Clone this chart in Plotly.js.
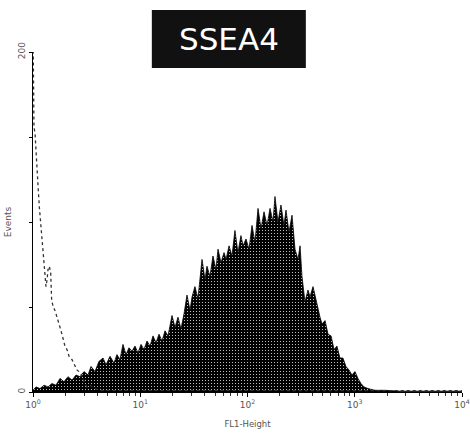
<!DOCTYPE html>
<html>
<head>
<meta charset="utf-8">
<script src="https://cdn.plot.ly/plotly-3.0.1.min.js"></script>
<style>html,body{margin:0;padding:0;background:#fff;}#chart{width:470px;height:434px;}</style>
</head>
<body>
<div id="chart"></div>
<script>
// SSEA4-stained sample: FL1-Height position (decades, log10) and event counts
const stainedDecade = [0.000,0.028,0.065,0.103,0.140,0.177,0.214,0.252,0.289,0.326,0.364,0.401,0.438,0.476,0.513,0.541,0.578,0.615,0.653,0.681,0.718,0.755,0.783,0.811,0.839,0.867,0.895,0.923,0.951,0.979,1.007,1.035,1.063,1.091,1.119,1.147,1.175,1.203,1.231,1.259,1.296,1.324,1.352,1.380,1.408,1.436,1.464,1.483,1.510,1.538,1.576,1.604,1.622,1.650,1.678,1.706,1.725,1.753,1.781,1.800,1.828,1.855,1.883,1.911,1.939,1.958,1.986,2.014,2.042,2.070,2.098,2.126,2.154,2.182,2.210,2.238,2.256,2.284,2.312,2.340,2.359,2.387,2.415,2.443,2.471,2.490,2.508,2.536,2.564,2.583,2.611,2.648,2.676,2.695,2.723,2.751,2.779,2.807,2.834,2.862,2.890,2.918,2.946,2.974,3.002,3.030,3.058,3.086,3.124,3.189,3.282,3.422,3.608,3.795,4.000];
const stainedCounts = [1,3,2,4,3,5,4,8,6,9,7,10,9,12,10,15,12,18,20,16,21,17,22,19,28,22,26,24,27,23,28,25,30,27,33,29,34,30,36,33,45,38,44,37,46,57,48,56,62,55,78,66,74,68,80,72,84,76,82,78,86,80,95,82,92,86,90,84,98,88,108,96,106,98,108,100,115,100,110,98,107,94,104,84,78,86,68,53,60,56,62,51,44,40,42,34,33,25,27,20,20,15,13,10,12,8,5,3,2,1,1,0.5,0.5,0.5,0.5];

// Isotype control: FL1-Height position (decades) and event counts
const controlDecade = [0.000,0.003,0.009,0.019,0.028,0.037,0.049,0.059,0.070,0.081,0.093,0.103,0.112,0.121,0.131,0.140,0.152,0.165,0.174,0.189,0.205,0.221,0.233,0.252,0.270,0.283,0.298,0.317,0.336,0.364,0.392,0.410,0.429,0.454,0.476,0.501,0.531,0.578,0.625,0.904,1.500,2.000,2.500,3.000,3.200,3.500,4.000];
const controlCounts = [215,160,156,152,144,130,119,109,100,94,82,74,66,62,66,72,74,70,54,50,48,44,41,38,34,30,27,25,21,19,15,13,12,10,6,3,4,2,1,1,1,1,1,1,0.8,0.8,0.8];

// Axis labels
const xTickVals = [1, 10, 100, 1000, 10000];
const xTickText = ['10<sup>0</sup>','10<sup>1</sup>','10<sup>2</sup>','10<sup>3</sup>','10<sup>4</sup>'];
const yTickVals = [0, 50, 100, 150, 200];
const yTickText = ['0', '', '', '', '200'];
const titleText = 'SSEA4';
const xTitle = 'FL1-Height';
const yTitle = 'Events';

const toLin = arr => arr.map(d => Math.pow(10, d));

const minorVals = [];
for (let k = 0; k < 4; k++) for (let m = 2; m <= 9; m++) minorVals.push(m * Math.pow(10, k));

const stained = {
  x: toLin(stainedDecade), y: stainedCounts, type: 'scatter', mode: 'lines',
  line: {color: '#000', width: 0.8},
  fill: 'tozeroy', fillcolor: '#000',
  fillpattern: {shape: '.', fgcolor: '#ffffff', bgcolor: '#000000', size: 3, solidity: 0.09},
  hoverinfo: 'skip', showlegend: false
};
const control = {
  x: toLin(controlDecade), y: controlCounts, type: 'scatter', mode: 'lines',
  line: {color: '#333', width: 1.3, dash: 'dot'},
  hoverinfo: 'skip', showlegend: false
};

const tickFont = {family: 'DejaVu Sans, sans-serif', size: 9, color: '#555'};

const layout = {
  width: 470, height: 434,
  margin: {l: 33, r: 8, t: 52, b: 42},
  paper_bgcolor: '#fff', plot_bgcolor: '#fff',
  showlegend: false,
  xaxis: {
    type: 'log', range: [0, 4],
    showgrid: false, zeroline: false,
    showline: true, linecolor: '#000', linewidth: 1,
    ticks: 'outside', ticklen: 4, tickcolor: '#000', tickwidth: 1,
    tickvals: xTickVals, ticktext: xTickText, tickfont: tickFont,
    minor: {ticks: 'outside', ticklen: 2.5, tickcolor: '#333', tickvals: minorVals},
    title: {text: xTitle, font: {family: 'DejaVu Sans, sans-serif', size: 8.5, color: '#555'}, standoff: 12}
  },
  yaxis: {
    range: [0, 200],
    showgrid: false, zeroline: false,
    showline: true, linecolor: '#000', linewidth: 1,
    ticks: 'outside', ticklen: 3, tickcolor: '#000',
    tickvals: yTickVals, ticktext: yTickText, tickangle: -90, tickfont: tickFont,
    title: {text: yTitle, font: {family: 'DejaVu Sans, sans-serif', size: 9, color: '#555'}, standoff: 4}
  },
  shapes: [{
    type: 'rect', xref: 'paper', yref: 'paper',
    x0: 0.277, x1: 0.636, y0: 0.953, y1: 1.1235,
    fillcolor: '#111', line: {width: 0}
  }],
  annotations: [{
    text: titleText, xref: 'paper', yref: 'paper', x: 0.4565, y: 1.038,
    xanchor: 'center', yanchor: 'middle', showarrow: false,
    font: {family: 'DejaVu Sans, sans-serif', size: 31, color: '#fff'}
  }]
};

Plotly.newPlot('chart', [stained, control], layout, {displayModeBar: false, staticPlot: true});
</script>
</body>
</html>
